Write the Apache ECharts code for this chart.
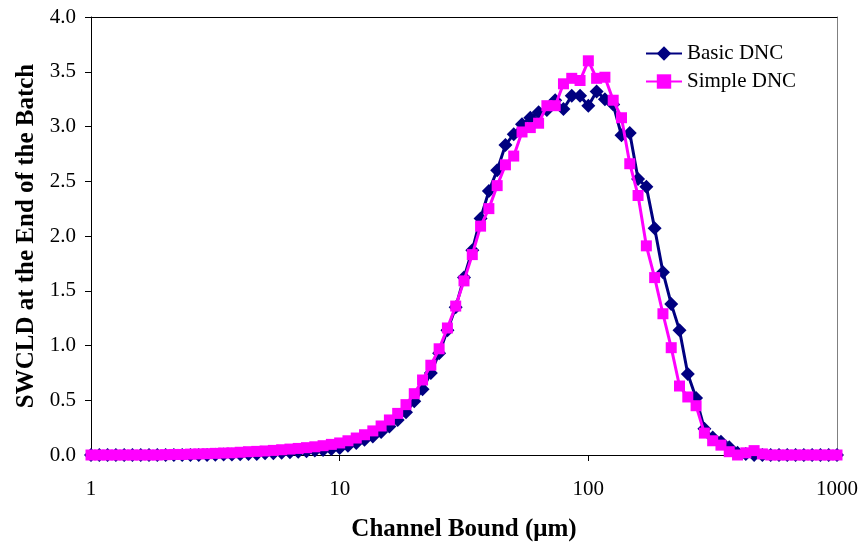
<!DOCTYPE html>
<html>
<head>
<meta charset="utf-8">
<script src="https://cdn.jsdelivr.net/npm/echarts@6/dist/echarts.min.js"></script>
<style>
html,body{margin:0;padding:0;background:#fff;}
#chart{width:862px;height:547px;}
</style>
</head>
<body>
<div id="chart"></div>
<script>
// Channel bounds (µm), geometric grid, 30 channels per decade
var channelBounds = [
  1, 1.0798, 1.1659, 1.2589, 1.3594, 1.4678, 1.5849, 1.7113, 1.8478, 1.9953,
  2.1544, 2.3263, 2.5119, 2.7123, 2.9286, 3.1623, 3.4145, 3.6869, 3.9811, 4.2987,
  4.6416, 5.0119, 5.4117, 5.8434, 6.3096, 6.8129, 7.3564, 7.9433, 8.5770, 9.2611,
  10, 10.798, 11.659, 12.589, 13.594, 14.678, 15.849, 17.113, 18.478, 19.953,
  21.544, 23.263, 25.119, 27.123, 29.286, 31.623, 34.145, 36.869, 39.811, 42.987,
  46.416, 50.119, 54.117, 58.434, 63.096, 68.129, 73.564, 79.433, 85.770, 92.611,
  100, 107.98, 116.59, 125.89, 135.94, 146.78, 158.49, 171.13, 184.78, 199.53,
  215.44, 232.63, 251.19, 271.23, 292.86, 316.23, 341.45, 368.69, 398.11, 429.87,
  464.16, 501.19, 541.17, 584.34, 630.96, 681.29, 735.64, 794.33, 857.70, 926.11,
  1000
];

var basicDNC = [
  0, 0, 0, 0, 0, 0, 0, 0, 0, 0,
  0, 0, 0, 0, 0, 0.003, 0.005, 0.005, 0.007, 0.01,
  0.01, 0.015, 0.015, 0.02, 0.025, 0.03, 0.035, 0.04, 0.045, 0.055,
  0.065, 0.085, 0.11, 0.14, 0.17, 0.21, 0.26, 0.32, 0.39, 0.49,
  0.60, 0.75, 0.93, 1.14, 1.35, 1.62, 1.87, 2.16, 2.41, 2.60,
  2.83, 2.93, 3.02, 3.08, 3.13, 3.15, 3.24, 3.16, 3.28, 3.28,
  3.19, 3.32, 3.25, 3.20, 2.92, 2.94, 2.52, 2.45, 2.07, 1.67,
  1.38, 1.14, 0.74, 0.52, 0.24, 0.16, 0.12, 0.07, 0.02, 0.01,
  0, 0, 0, 0, 0, 0, 0, 0, 0, 0,
  0
];

var simpleDNC = [
  0, 0, 0, 0, 0, 0, 0, 0, 0, 0.003,
  0.005, 0.005, 0.008, 0.01, 0.012, 0.015, 0.018, 0.02, 0.025, 0.03,
  0.033, 0.037, 0.042, 0.048, 0.054, 0.06, 0.067, 0.075, 0.085, 0.097,
  0.11, 0.13, 0.155, 0.185, 0.22, 0.265, 0.32, 0.38, 0.46, 0.56,
  0.685, 0.82, 0.97, 1.16, 1.36, 1.59, 1.83, 2.09, 2.25, 2.46,
  2.65, 2.73, 2.95, 2.99, 3.03, 3.19, 3.19, 3.39, 3.44, 3.42,
  3.60, 3.44, 3.45, 3.24, 3.08, 2.66, 2.37, 1.91, 1.62, 1.29,
  0.98, 0.63, 0.53, 0.45, 0.20, 0.13, 0.09, 0.03, 0.00, 0.02,
  0.04, 0.01, 0, 0, 0, 0, 0, 0, 0, 0,
  0
];

var seriesNames = ['Basic DNC', 'Simple DNC'];
var xTitle = 'Channel Bound (\u03bcm)';
var yTitle = 'SWCLD at the End of the Batch';

function pairs(xs, ys) {
  return xs.map(function (x, i) { return [x, ys[i]]; });
}

var FONT = '"Liberation Serif", "Times New Roman", serif';
var chart = echarts.init(document.getElementById('chart'), null, {renderer: 'canvas'});
chart.setOption({
  animation: false,
  backgroundColor: '#ffffff',
  grid: {left: 91, right: 25, top: 17, bottom: 88, containLabel: false},
  legend: {
    orient: 'vertical',
    left: 640,
    top: 38,
    itemWidth: 36,
    itemHeight: 18,
    itemGap: 7,
    textStyle: {fontFamily: FONT, fontSize: 21, color: '#000', lineHeight: 20},
    data: seriesNames
  },
  xAxis: [{
    type: 'log',
    logBase: 10,
    min: 1,
    max: 1000,
    name: xTitle,
    nameLocation: 'middle',
    nameGap: 62,
    nameTextStyle: {fontFamily: FONT, fontSize: 25, fontWeight: 'bold', color: '#000'},
    axisLine: {show: true, onZero: false, lineStyle: {color: '#000', width: 1}},
    axisTick: {show: true, inside: false, length: 6, lineStyle: {color: '#000'}},
    minorTick: {show: false},
    splitLine: {show: false},
    axisLabel: {
      fontFamily: FONT, fontSize: 21, color: '#000', margin: 24,
      formatter: function (v) { return String(Math.round(v)); }
    }
  }, {
    type: 'log', logBase: 10, min: 1, max: 1000, position: 'top',
    axisLine: {show: true, onZero: false, lineStyle: {color: '#000', width: 1}},
    axisTick: {show: false}, axisLabel: {show: false}, splitLine: {show: false}
  }],
  yAxis: [{
    type: 'value',
    min: 0,
    max: 4,
    interval: 0.5,
    name: yTitle,
    nameLocation: 'middle',
    nameGap: 52,
    nameTextStyle: {fontFamily: FONT, fontSize: 25, fontWeight: 'bold', color: '#000'},
    axisLine: {show: true, onZero: false, lineStyle: {color: '#000', width: 1}},
    axisTick: {show: true, inside: false, length: 6, lineStyle: {color: '#000'}},
    splitLine: {show: false},
    axisLabel: {
      fontFamily: FONT, fontSize: 21, color: '#000', margin: 15,
      formatter: function (v) { return v.toFixed(1); }
    }
  }, {
    type: 'value', min: 0, max: 4, interval: 0.5, position: 'right',
    axisLine: {show: true, onZero: false, lineStyle: {color: '#808080', width: 1}},
    axisTick: {show: false}, axisLabel: {show: false}, splitLine: {show: false}
  }],
  series: [{
    name: seriesNames[0],
    type: 'line',
    data: pairs(channelBounds, basicDNC),
    symbol: 'diamond',
    symbolSize: 14,
    showAllSymbol: true,
    lineStyle: {color: '#000080', width: 3},
    itemStyle: {color: '#000080'},
    z: 2
  }, {
    name: seriesNames[1],
    type: 'line',
    data: pairs(channelBounds, simpleDNC),
    symbol: 'rect',
    symbolSize: 11,
    showAllSymbol: true,
    lineStyle: {color: '#FF00FF', width: 3},
    itemStyle: {color: '#FF00FF'},
    z: 3
  }]
});
</script>
</body>
</html>
